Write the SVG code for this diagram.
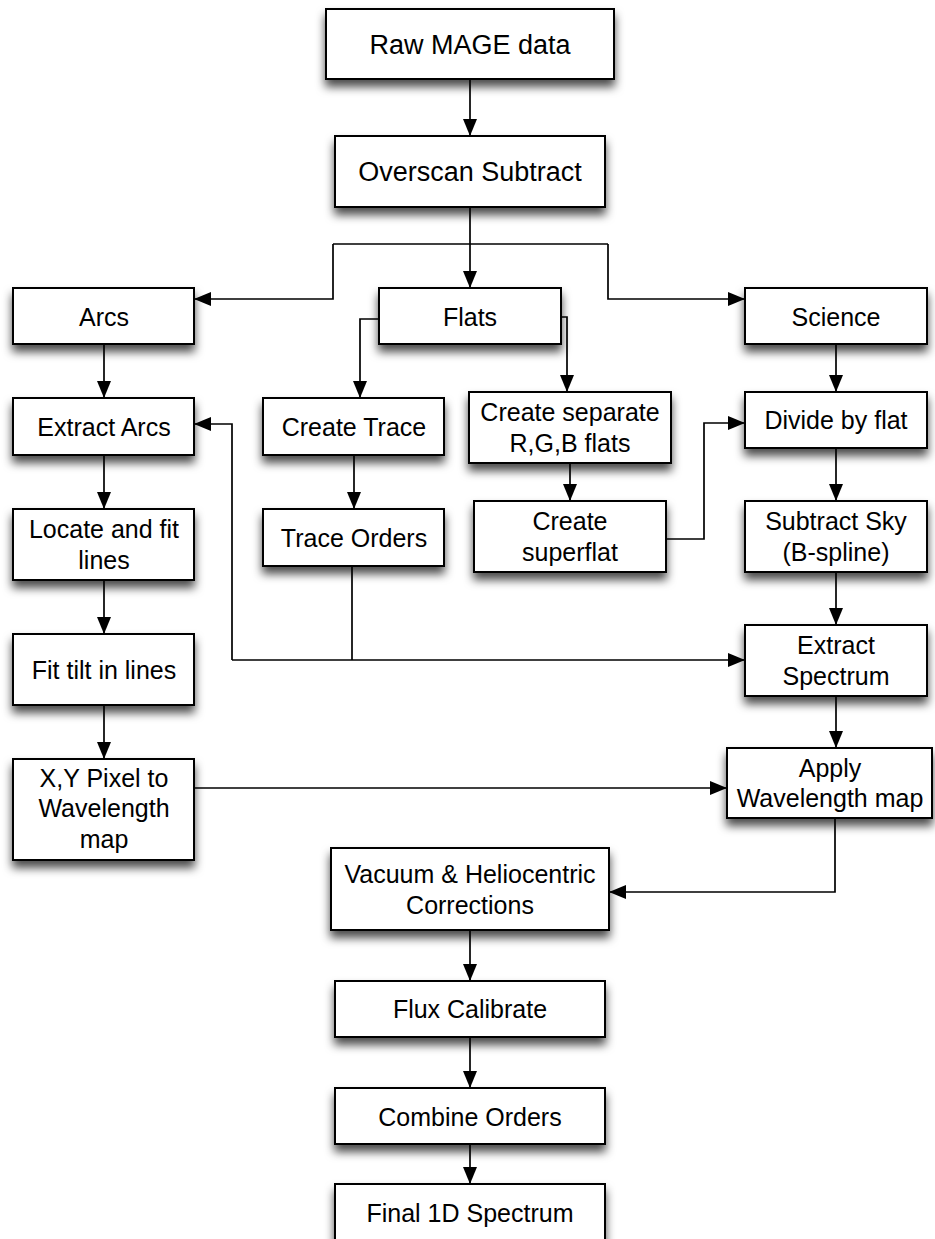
<svg xmlns="http://www.w3.org/2000/svg" width="935" height="1239" viewBox="0 0 935 1239">
<style>
.box{fill:#fff;stroke:#000;stroke-width:2;filter:url(#sh)}
.t{font-family:"Liberation Sans",Arial,sans-serif;font-size:25px;fill:#000;text-anchor:middle}
.tl{font-size:27px}
.c{fill:none;stroke:#000;stroke-width:1.7}
.a{marker-end:url(#ah)}
</style>
<defs>
<filter id="sh" x="-20%" y="-30%" width="140%" height="180%">
<feDropShadow dx="0" dy="7" stdDeviation="5" flood-color="#000" flood-opacity="0.7"/>
</filter>
<marker id="ah" markerUnits="userSpaceOnUse" markerWidth="17" markerHeight="14" refX="17" refY="7" orient="auto">
<path d="M0,0 L17,7 L0,14 z" fill="#000"/>
</marker>
</defs>
<g id="connectors">
<path class="c a" d="M470,79 V136"/>
<path class="c a" d="M470,207 V288"/>
<path class="c" d="M333,244 H608"/>
<path class="c a" d="M333,244 V299 H194"/>
<path class="c a" d="M608,244 V299 H745"/>
<path class="c a" d="M104,344 V398"/>
<path class="c a" d="M379,319 H360 V398"/>
<path class="c a" d="M561,317 H567 V392"/>
<path class="c a" d="M836,344 V392"/>
<path class="c a" d="M354,455 V509"/>
<path class="c a" d="M570,463 V501"/>
<path class="c a" d="M663,539 H704 V423 H745"/>
<path class="c a" d="M104,455 V509"/>
<path class="c a" d="M104,580 V634"/>
<path class="c a" d="M104,705 V759"/>
<path class="c a" d="M836,448 V501"/>
<path class="c a" d="M836,572 V625"/>
<path class="c" d="M352,566 V660"/>
<path class="c a" d="M232,660 H745"/>
<path class="c a" d="M232,660 V424 H194"/>
<path class="c a" d="M836,696 V748"/>
<path class="c a" d="M194,788 H727"/>
<path class="c a" d="M835,818 V892 H609"/>
<path class="c a" d="M470,930 V981"/>
<path class="c a" d="M470,1037 V1088"/>
<path class="c a" d="M470,1144 V1184"/>
</g>
<g id="raw"><rect class="box" x="326" y="9" width="288" height="70"/><text class="t tl" x="470" y="54">Raw MAGE data</text></g>
<g id="overscan"><rect class="box" x="335" y="136" width="270" height="71"/><text class="t tl" x="470" y="181">Overscan Subtract</text></g>
<g id="arcs"><rect class="box" x="13" y="288" width="181" height="56"/><text class="t" x="104" y="326">Arcs</text></g>
<g id="flats"><rect class="box" x="379" y="288" width="182" height="56"/><text class="t" x="470" y="326">Flats</text></g>
<g id="science"><rect class="box" x="745" y="288" width="182" height="56"/><text class="t" x="836" y="326">Science</text></g>
<g id="extract-arcs"><rect class="box" x="13" y="398" width="181" height="57"/><text class="t" x="104" y="436">Extract Arcs</text></g>
<g id="create-trace"><rect class="box" x="263" y="398" width="181" height="57"/><text class="t" x="354" y="436">Create Trace</text></g>
<g id="create-separate"><rect class="box" x="469" y="392" width="202" height="71"/><text class="t" x="570" y="421">Create separate</text><text class="t" x="570" y="452">R,G,B flats</text></g>
<g id="divide"><rect class="box" x="745" y="392" width="182" height="56"/><text class="t" x="836" y="429">Divide by flat</text></g>
<g id="superflat"><rect class="box" x="474" y="501" width="192" height="71"/><text class="t" x="570" y="530">Create</text><text class="t" x="570" y="561">superflat</text></g>
<g id="locate"><rect class="box" x="13" y="509" width="181" height="71"/><text class="t" x="104" y="538">Locate and fit</text><text class="t" x="104" y="569">lines</text></g>
<g id="trace-orders"><rect class="box" x="263" y="509" width="181" height="57"/><text class="t" x="354" y="547">Trace Orders</text></g>
<g id="subtract-sky"><rect class="box" x="745" y="501" width="182" height="71"/><text class="t" x="836" y="530">Subtract Sky</text><text class="t" x="836" y="561">(B-spline)</text></g>
<g id="fit-tilt"><rect class="box" x="13" y="634" width="181" height="71"/><text class="t" x="104" y="679">Fit tilt in lines</text></g>
<g id="extract-spectrum"><rect class="box" x="745" y="625" width="182" height="71"/><text class="t" x="836" y="654">Extract</text><text class="t" x="836" y="685">Spectrum</text></g>
<g id="xy-map"><rect class="box" x="13" y="759" width="181" height="101"/><text class="t" x="104" y="787">X,Y Pixel to</text><text class="t" x="104" y="817">Wavelength</text><text class="t" x="104" y="848">map</text></g>
<g id="apply"><rect class="box" x="727" y="748" width="205" height="70"/><text class="t" x="830" y="777">Apply</text><text class="t" x="830" y="807">Wavelength map</text></g>
<g id="vacuum"><rect class="box" x="331" y="848" width="278" height="82"/><text class="t" x="470" y="883">Vacuum &amp; Heliocentric</text><text class="t" x="470" y="914">Corrections</text></g>
<g id="flux"><rect class="box" x="335" y="981" width="270" height="56"/><text class="t" x="470" y="1018">Flux Calibrate</text></g>
<g id="combine"><rect class="box" x="335" y="1088" width="270" height="56"/><text class="t" x="470" y="1126">Combine Orders</text></g>
<g id="final"><rect class="box" x="335" y="1184" width="270" height="58"/><text class="t" x="470" y="1222">Final 1D Spectrum</text></g>
</svg>
